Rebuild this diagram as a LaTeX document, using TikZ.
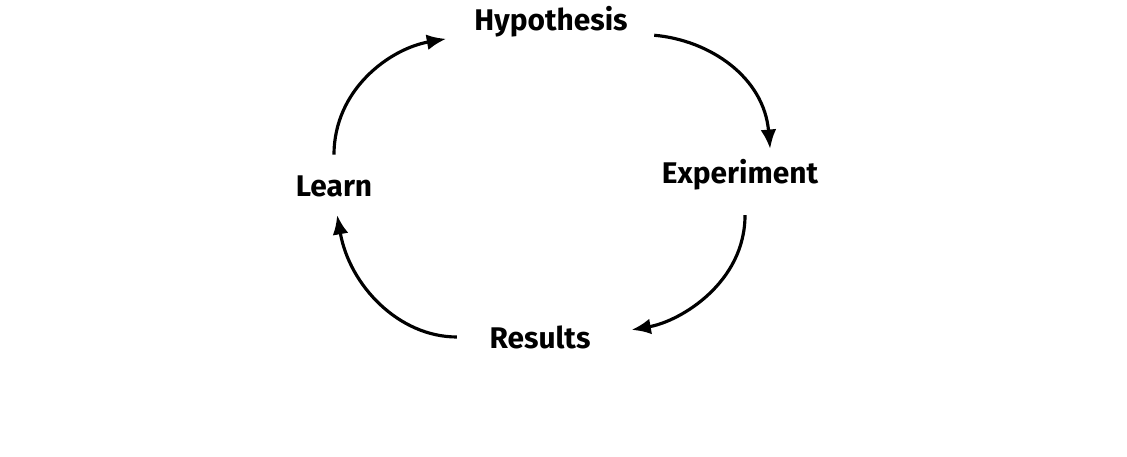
\documentclass[tikz,border=0pt]{standalone}
\usepackage{fontspec}
\setmainfont{Fira Sans}
\usetikzlibrary{arrows.meta}
\tikzset{
  word/.style={inner sep=0pt, font=\fontsize{8.5}{10}\selectfont\bfseries},
  loop/.style={line width=0.9pt, looseness=1.1, -{Latex[length=5.5pt,width=4.5pt]}}
}
\begin{document}
\begin{tikzpicture}[scale=1.0]
\useasboundingbox (0,0) rectangle (11.27,4.57);

\node[word] (hyp) at (5.51,4.35) {Hypothesis};
\node[word] (exp) at (7.40,2.82) {Experiment};
\node[word] (res) at (5.40,1.20) {Results};
\node[word] (learn) at (3.34,2.71) {Learn};

\draw[loop, shorten <=0.20cm, shorten >=0.28cm] (learn.north) to[out=90, in=190] ([yshift=-0.12cm]hyp.west);
\draw[loop, shorten <=0.26cm, shorten >=0.10cm] ([yshift=-0.11cm]hyp.east) to[out=-5, in=95] ([xshift=0.31cm]exp.north);
\draw[loop, shorten <=0.24cm, shorten >=0.41cm] ([xshift=0.05cm]exp.south) to[out=-90, in=10] (res.east);
\draw[loop, shorten <=0.32cm, shorten >=0.18cm] (res.west) to[out=180, in=-80] (learn.south);
\end{tikzpicture}
\end{document}
